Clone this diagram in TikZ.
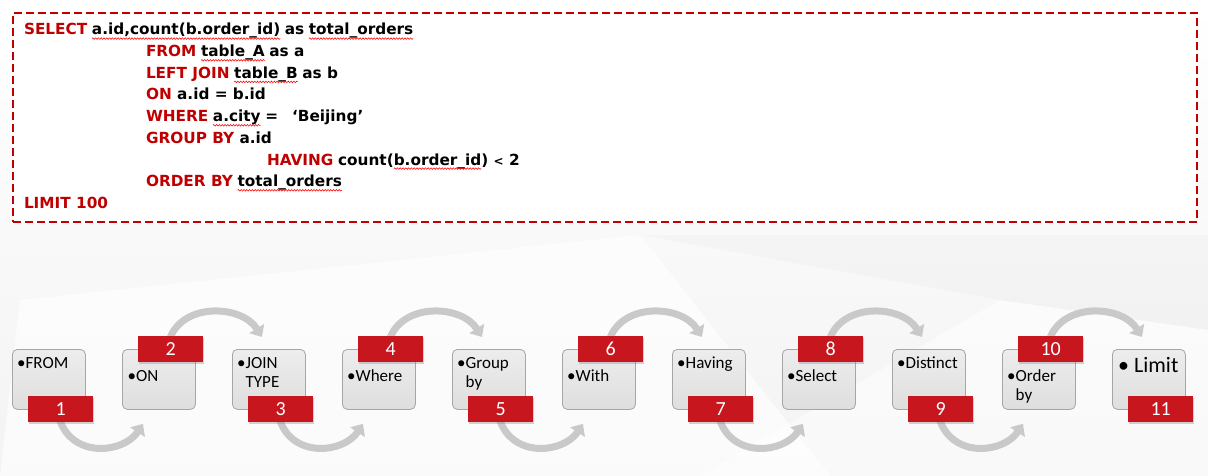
\documentclass[tikz,border=0pt]{standalone}
\usepackage{fontspec}
\setmainfont{Carlito}
\newfontfamily\sqlfont{DejaVu Sans}
\usetikzlibrary{arrows.meta,shadows,decorations.pathmorphing,calc}
\definecolor{kw}{HTML}{C00000}
\definecolor{tagred}{HTML}{C8161E}
\definecolor{boxline}{HTML}{A6A6A6}
\definecolor{boxtop}{HTML}{EDEDED}
\definecolor{boxbot}{HTML}{DEDEDE}
\definecolor{flowgray}{HTML}{C9C9C9}
\definecolor{bgbase}{HTML}{F3F3F3}
\newcommand\kwc{\color{kw}}
\newcommand\gapw{4.6}
\newcommand\twolines[2]{\vtop{\baselineskip=19pt\hbox{\textbullet#1}\hbox{\phantom{\textbullet}#2}}}
\begin{document}
\begin{tikzpicture}[x=1pt,y=-1pt,
  sql/.style={inner sep=0pt, outer sep=0pt, anchor=base west, font=\sqlfont\bfseries\fontsize{15.3}{18}\selectfont},
  squig/.style={draw=red, line width=0.55pt, decorate, decoration={snake, amplitude=0.8pt, segment length=2.8pt}},
  stepbox/.style={draw=boxline, line width=0.8pt, rounded corners=5pt, top color=boxtop, bottom color=boxbot, minimum width=73pt, minimum height=60pt, anchor=north west, inner sep=0pt},
  tag/.style={fill=tagred, minimum width=65pt, minimum height=26pt, anchor=north west, inner sep=0pt, text=white, font=\fontsize{20}{24}\selectfont, drop shadow={shadow xshift=1.2pt, shadow yshift=-1.5pt, opacity=.35}},
  lbl/.style={anchor=base west, inner sep=0pt, font=\fontsize{17}{19}\selectfont},
  flow/.style={line width=7pt, draw=flowgray, -{Triangle[length=10pt,width=17pt]}}
]
\useasboundingbox (0,0) rectangle (1208,476);
% background
\shade[top color=white, bottom color=bgbase] (0,0) rectangle (1208,476);
\fill[white, opacity=.65] (0,476) -- (20,300) -- (640,235) -- (830,476) -- cycle;
\fill[white, opacity=.5] (700,476) -- (1000,300) -- (1208,330) -- (1208,476) -- cycle;
\fill[black, opacity=.018] (640,235) -- (1208,235) -- (1208,330) -- (1000,300) -- cycle;

% SQL frame
\node[draw=kw, line width=1.6pt, dash pattern=on 8pt off 4pt, fill=white, anchor=north west, minimum width=1184pt, minimum height=209pt, inner sep=0pt] (frame) at (12,12) {};

% line 1
\node[sql] (s1a) at (24,35) {\kwc SELECT};
\node[sql] (s1b) at ($(s1a.base east)+(\gapw,0)$) {a.id,count(b.order\_id)};
\node[sql] (s1c) at ($(s1b.base east)+(\gapw,0)$) {as};
\node[sql] (s1d) at ($(s1c.base east)+(\gapw,0)$) {total\_orders};
% line 2
\node[sql] (s2a) at (146,56.7) {\kwc FROM};
\node[sql] (s2b) at ($(s2a.base east)+(\gapw,0)$) {table\_A};
\node[sql] (s2c) at ($(s2b.base east)+(\gapw,0)$) {as a};
% line 3
\node[sql] (s3a) at (146,78.3) {\kwc LEFT JOIN};
\node[sql] (s3b) at ($(s3a.base east)+(\gapw,0)$) {table\_B};
\node[sql] (s3c) at ($(s3b.base east)+(\gapw,0)$) {as b};
% line 4
\node[sql] (s4a) at (146,100) {{\kwc ON} a.id = b.id};
% line 5
\node[sql] (s5a) at (146,121.7) {\kwc WHERE};
\node[sql] (s5b) at ($(s5a.base east)+(\gapw,0)$) {a.city};
\node[sql] (s5c) at ($(s5b.base east)+(\gapw,0)$) {=\hspace{14pt}‘Beijing’};
% line 6
\node[sql] (s6a) at (146,143.3) {{\kwc GROUP BY} a.id};
% line 7
\node[sql] (s7a) at (267,165) {\kwc HAVING};
\node[sql] (s7b) at ($(s7a.base east)+(\gapw,0)$) {count(};
\node[sql] (s7c) at (s7b.base east) {b.order\_id};
\node[sql] (s7d) at (s7c.base east) {) {\fontsize{12}{14}\selectfont\textless} 2};
% line 8
\node[sql] (s8a) at (146,186.7) {\kwc ORDER BY};
\node[sql] (s8b) at ($(s8a.base east)+(\gapw,0)$) {total\_orders};
% line 9
\node[sql] (s9a) at (24,208.3) {\kwc LIMIT 100};

% spell-check squiggles
\foreach \w in {s1b,s1d,s2b,s3b,s5b,s7c,s8b}{
  \draw[squig] ($(\w.base west)+(0,3.6)$) -- ($(\w.base east)+(0,3.6)$);
}

% step boxes
\foreach \i in {1,...,11}{
  \node[stepbox] (b\i) at ({12+110*(\i-1)},349) {};
}

% labels
\node[lbl] (t1) at ($(b1.north west)+(5,19)$) {\textbullet FROM};
\node[lbl] (t2) at ($(b2.north west)+(5.5,32)$) {\textbullet ON};
\node[lbl] (t3) at ($(b3.north west)+(5,19)$) {\twolines{JOIN}{TYPE}};
\node[lbl] (t4) at ($(b4.north west)+(5,32)$) {\textbullet Where};
\node[lbl] (t5) at ($(b5.north west)+(5,19)$) {\twolines{Group}{by}};
\node[lbl] (t6) at ($(b6.north west)+(5,32)$) {\textbullet With};
\node[lbl] (t7) at ($(b7.north west)+(5,19)$) {\textbullet Having};
\node[lbl] (t8) at ($(b8.north west)+(5,32)$) {\textbullet Select};
\node[lbl] (t9) at ($(b9.north west)+(5,19)$) {\textbullet Distinct};
\node[lbl] (t10) at ($(b10.north west)+(5,32)$) {\twolines{Order}{by}};
\node[lbl, font=\fontsize{22}{26}\selectfont] (t11) at ($(b11.north west)+(6,23.5)$) {\textbullet\ Limit};

% flow arrows
\foreach \i/\j in {1/2,3/4,5/6,7/8,9/10}{
  \draw[flow] ($(b\i.south west)+(48,11)$) .. controls ($(b\i.south west)+(62,49)$) and ($(b\j.south west)+(2,43)$) .. ($(b\j.south west)+(21,14)$);
}
\foreach \i/\j in {2/3,4/5,6/7,8/9,10/11}{
  \draw[flow] ($(b\i.north west)+(48,-11)$) .. controls ($(b\i.north west)+(62,-47)$) and ($(b\j.north west)+(10,-44)$) .. ($(b\j.north west)+(30,-12)$);
}

% number tags
\foreach \i in {1,3,5,7,9,11}{
  \node[tag] (n\i) at ($(b\i.north west)+(16,47)$) {\i};
}
\foreach \i in {2,4,6,8,10}{
  \node[tag] (n\i) at ($(b\i.north west)+(16,-13)$) {\i};
}
\end{tikzpicture}
\end{document}
